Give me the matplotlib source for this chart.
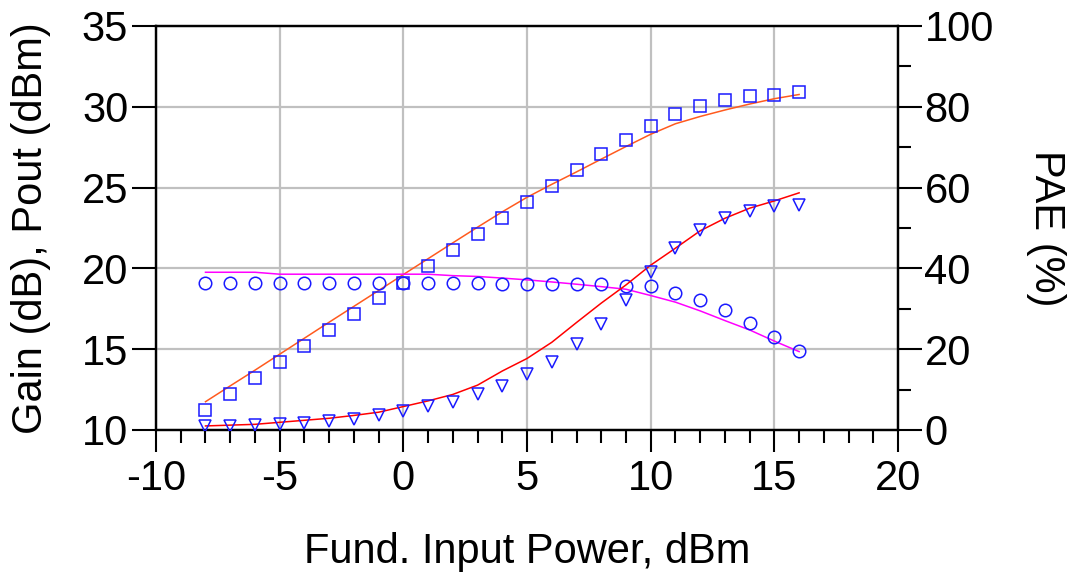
import matplotlib
matplotlib.use("Agg")
import matplotlib.pyplot as plt
from matplotlib.ticker import MultipleLocator

plt.rcParams['font.family'] = ['Liberation Sans', 'DejaVu Sans']
plt.rcParams['axes.unicode_minus'] = False

# Input power sweep (dBm)
pin = [-8, -7, -6, -5, -4, -3, -2, -1, 0, 1, 2, 3, 4, 5, 6, 7, 8, 9, 10, 11, 12, 13, 14, 15, 16]

# Measured output power (dBm)
pout_meas = [11.24, 12.2, 13.2, 14.19, 15.18, 16.19, 17.16, 18.15, 19.12, 20.13, 21.15, 22.12,
             23.1, 24.12, 25.09, 26.08, 27.07, 27.94, 28.84, 29.55, 30.02, 30.39, 30.64, 30.74, 30.91]
# Simulated output power (dBm)
pout_sim = [11.75, 12.73, 13.7, 14.69, 15.68, 16.67, 17.65, 18.63, 19.62, 20.6, 21.58, 22.55,
            23.5, 24.4, 25.2, 25.97, 26.76, 27.54, 28.3, 28.95, 29.4, 29.8, 30.17, 30.5, 30.76]

# Measured gain (dB)
gain_meas = [19.12, 19.12, 19.12, 19.12, 19.12, 19.12, 19.12, 19.12, 19.12, 19.12, 19.12, 19.12,
             19.02, 19.02, 19.02, 19.02, 19.02, 18.92, 18.92, 18.5, 18.03, 17.41, 16.65, 15.78, 14.91]
# Simulated gain (dB)
gain_sim = [19.76, 19.76, 19.76, 19.64, 19.64, 19.64, 19.64, 19.64, 19.64, 19.64, 19.55, 19.5,
            19.4, 19.29, 19.16, 19.02, 18.87, 18.71, 18.32, 17.91, 17.37, 16.77, 16.19, 15.5, 14.85]

# Measured PAE (%)
pae_meas = [1.0, 1.0, 1.24, 1.5, 1.8, 2.2, 2.8, 3.8, 4.6, 5.9, 6.9, 8.8, 10.8, 13.8, 16.8,
            21.2, 26.2, 32.1, 39.2, 45.0, 49.4, 52.5, 54.3, 55.4, 55.8]
# Simulated PAE (%)
pae_sim = [1.0, 1.2, 1.4, 1.9, 2.4, 2.9, 3.6, 4.4, 5.8, 7.2, 8.8, 11.1, 14.6, 17.7, 21.7,
           26.6, 31.4, 35.9, 40.8, 45.0, 49.3, 52.4, 54.9, 56.7, 58.7]

fig = plt.figure(figsize=(10.79, 5.76), dpi=100)
ax = fig.add_axes([0.1446, 0.2535, 0.8323 - 0.1446, 0.9549 - 0.2535])
ax2 = ax.twinx()

blue = '#1a1aff'
msize = 9.0
mew = 1.1

ax.plot(pin, pout_sim, color='#ff5a1e', lw=1.1, zorder=3)
ax.plot(pin, gain_sim, color='#ff00ff', lw=1.1, zorder=3)
ax.plot(pin, pout_meas, ls='none', marker='s', ms=msize, mfc='none', mec=blue, mew=mew, zorder=4)
ax.plot(pin, gain_meas, ls='none', marker='o', ms=msize, mfc='none', mec=blue, mew=mew, zorder=4)

ax2.plot(pin, pae_sim, color='#ff0000', lw=1.1, zorder=3)
ax2.plot(pin, pae_meas, ls='none', marker='v', ms=msize, mfc='none', mec=blue, mew=mew, zorder=4)

ax.set_xlim(-10, 20)
ax.set_ylim(10, 35)
ax2.set_ylim(0, 100)

ax.xaxis.set_major_locator(MultipleLocator(5))
ax.xaxis.set_minor_locator(MultipleLocator(1))
ax.yaxis.set_major_locator(MultipleLocator(5))
ax2.yaxis.set_major_locator(MultipleLocator(20))
ax2.yaxis.set_minor_locator(MultipleLocator(10))

ax.grid(True, which='major', color='#c0c0c0', lw=1.6)
ax.set_axisbelow(True)

fs = 30
ax.tick_params(axis='x', which='major', direction='out', length=16, width=1.5,
               labelsize=fs, pad=5, colors='black')
ax.tick_params(axis='x', which='minor', direction='out', length=9, width=1.5)
ax.tick_params(axis='y', which='major', direction='out', length=17, width=1.5,
               labelsize=fs, pad=3)
ax2.tick_params(axis='y', which='major', direction='out', length=17, width=1.5,
                labelsize=fs, pad=2)
ax2.tick_params(axis='y', which='minor', direction='out', length=9, width=1.5)

for a in (ax, ax2):
    for s in a.spines.values():
        s.set_linewidth(1.6)
        s.set_color('black')

ax.set_xlabel('Fund. Input Power, dBm', fontsize=fs, labelpad=24)
ax.set_ylabel('Gain (dB), Pout (dBm)', fontsize=fs, labelpad=22)
ax2.set_ylabel('PAE (%)', fontsize=fs, rotation=270, labelpad=52)

fig.savefig('out.png', dpi=100)
